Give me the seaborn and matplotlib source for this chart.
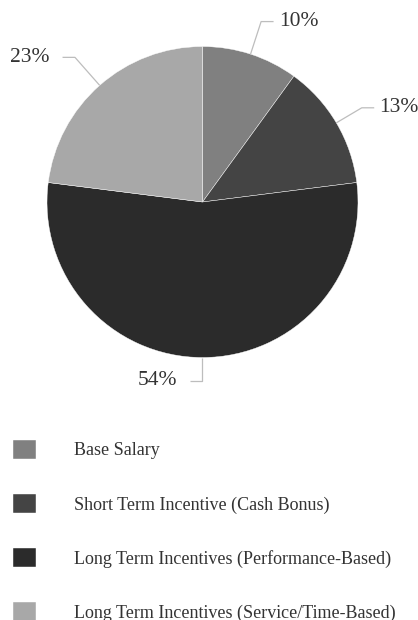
import numpy as np
import matplotlib
matplotlib.use('Agg')
import matplotlib.pyplot as plt
import seaborn as sns

categories = [
    "Base Salary",
    "Short Term Incentive (Cash Bonus)",
    "Long Term Incentives (Performance-Based)",
    "Long Term Incentives (Service/Time-Based)",
]
shares = [10, 13, 54, 23]
pct_labels = ["10%", "13%", "54%", "23%"]
colors = ["#808080", "#444444", "#2b2b2b", "#a8a8a8"]

sns.set_theme(style="white")
plt.rcParams['font.family'] = ['Liberation Serif', 'DejaVu Serif']

W, H = 418, 620
cx, cy, R = 202.5, 202, 155.5

fig = plt.figure(figsize=(W / 100, H / 100), dpi=100)
ax = fig.add_axes([0, 0, 1, 1])

wedges, _ = ax.pie(shares, colors=colors, startangle=90, counterclock=False,
                   wedgeprops=dict(edgecolor='white', linewidth=0.3))

# map pixel layout onto data coords (unit circle = pie)
ax.set_xlim(-cx / R, (W - cx) / R)
ax.set_ylim(-(H - cy) / R, cy / R)
ax.set_aspect('auto')
ax.axis('off')

# leader lines + percentage labels
elbow_r = [1.22, 1.19, 1.15, 1.24]
for w, lab, er in zip(wedges, pct_labels, elbow_r):
    ang = np.deg2rad((w.theta1 + w.theta2) / 2)
    ex, ey = np.cos(ang), np.sin(ang)
    bx, by = er * ex, er * ey
    side = 1 if ex > 0.01 else -1
    hx = bx + side * 0.08
    gap = 0.035 if side > 0 else 0.085
    ax.plot([ex, bx, hx], [ey, by, by], color='#bdbdbd', lw=0.9,
            solid_capstyle='butt', clip_on=False)
    ax.text(hx + side * gap, by, lab, fontsize=15.5, color='#333333',
            ha='left' if side > 0 else 'right', va='center')

fig.legend(wedges, categories, loc='upper left',
           bbox_to_anchor=(13 / W, 1 - 440 / H), frameon=False,
           fontsize=13, labelcolor='#333333', borderpad=0, borderaxespad=0,
           handlelength=1.28, handleheight=1.22, handletextpad=2.1,
           labelspacing=1.92)

plt.savefig("out.png", dpi=100)
plt.close()
